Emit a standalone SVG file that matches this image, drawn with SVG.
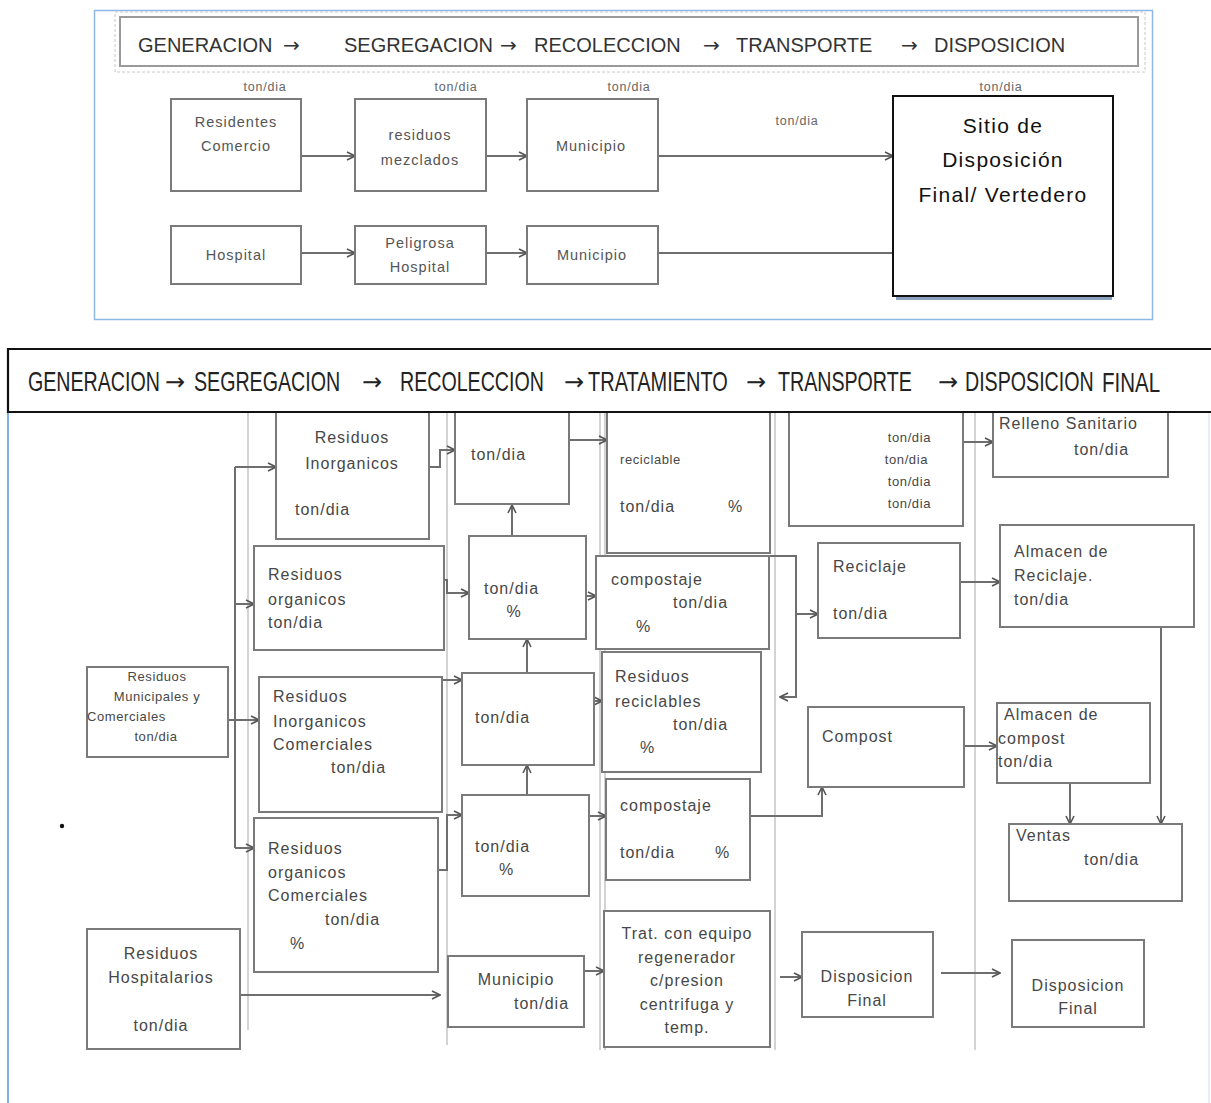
<svg xmlns="http://www.w3.org/2000/svg" width="1211" height="1103" viewBox="0 0 1211 1103">
<style>
.bg{fill:#fff}
.box{fill:#fff;stroke:#7a7a7a;stroke-width:2}
.t{font-family:"Liberation Sans",Arial,sans-serif;fill:#474747;font-size:16px;letter-spacing:1px}
.s{font-size:13px;letter-spacing:0.6px}
.tt{font-family:"Liberation Sans",Arial,sans-serif;fill:#555;font-size:14.5px;letter-spacing:1px}
.lab{font-family:"Liberation Sans",Arial,sans-serif;fill:#666;font-size:12.5px;letter-spacing:0.8px}
.h1{font-family:"Liberation Sans",Arial,sans-serif;fill:#333;font-size:20px}
.h2{font-family:"Liberation Sans",Arial,sans-serif;fill:#222;font-size:27px}
.ar{font-family:"DejaVu Sans",sans-serif;fill:#333;font-size:20px}
.ar2{font-family:"DejaVu Sans",sans-serif;fill:#222;font-size:24px}
.c{text-anchor:middle}
.e{text-anchor:end}
.conn{fill:none;stroke:#6e6e6e;stroke-width:2}
.div{fill:none;stroke:#c4c4c4;stroke-width:1.5}
</style>
<defs>
<marker id="arr" viewBox="0 0 10 10" refX="9" refY="5" markerWidth="10" markerHeight="10" markerUnits="userSpaceOnUse" orient="auto">
<path d="M1,1 L9,5 L1,9" fill="none" stroke="#555" stroke-width="1.6"/>
</marker>
</defs>
<rect class="bg" x="0" y="0" width="1211" height="1103"/>

<!-- TOP DIAGRAM -->
<g id="top-frame">
<rect x="94.5" y="10.5" width="1058" height="309" fill="none" stroke="#8db8e6" stroke-width="1.5"/>
<rect x="115" y="12" width="1030" height="60" fill="none" stroke="#c8c8c8" stroke-width="1" stroke-dasharray="3,2"/>
<rect x="120" y="17" width="1018" height="49" fill="#fff" stroke="#9a9a9a" stroke-width="2"/>
<text class="h1" x="138" y="52">GENERACION</text>
<text class="ar" x="283" y="52">→</text>
<text class="h1" x="344" y="52">SEGREGACION</text>
<text class="ar" x="500" y="52">→</text>
<text class="h1" x="534" y="52">RECOLECCION</text>
<text class="ar" x="703" y="52">→</text>
<text class="h1" x="736" y="52">TRANSPORTE</text>
<text class="ar" x="901" y="52">→</text>
<text class="h1" x="934" y="52">DISPOSICION</text>
</g>
<g id="top-labels">
<text class="lab c" x="265" y="91">ton/dia</text>
<text class="lab c" x="456" y="91">ton/dia</text>
<text class="lab c" x="629" y="91">ton/dia</text>
<text class="lab c" x="1001" y="91">ton/dia</text>
<text class="lab c" x="797" y="125">ton/dia</text>
</g>
<g id="top-connectors">
<path class="conn" d="M301,156 H355" marker-end="url(#arr)"/>
<path class="conn" d="M486,156 H527" marker-end="url(#arr)"/>
<path class="conn" d="M658,156 H893" marker-end="url(#arr)"/>
<path class="conn" d="M301,253 H355" marker-end="url(#arr)"/>
<path class="conn" d="M486,253 H527" marker-end="url(#arr)"/>
<path class="conn" d="M658,253 H893"/>
</g>
<g id="top-residentes"><rect class="box" x="171" y="99" width="130" height="92"/>
<text class="tt c" x="236" y="127">Residentes</text><text class="tt c" x="236" y="151">Comercio</text></g>
<g id="top-mezclados"><rect class="box" x="355" y="99" width="131" height="92"/>
<text class="tt c" x="420" y="140">residuos</text><text class="tt c" x="420" y="165">mezclados</text></g>
<g id="top-municipio1"><rect class="box" x="527" y="99" width="131" height="92"/>
<text class="tt c" x="591" y="151">Municipio</text></g>
<g id="top-hospital"><rect class="box" x="171" y="226" width="130" height="58"/>
<text class="tt c" x="236" y="260">Hospital</text></g>
<g id="top-peligrosa"><rect class="box" x="355" y="226" width="131" height="58"/>
<text class="tt c" x="420" y="248">Peligrosa</text><text class="tt c" x="420" y="272">Hospital</text></g>
<g id="top-municipio2"><rect class="box" x="527" y="226" width="131" height="58"/>
<text class="tt c" x="592" y="260">Municipio</text></g>
<g id="top-sitio">
<rect x="896" y="100" width="216" height="200" fill="#8aa0bf"/>
<rect x="893" y="96" width="220" height="200" fill="#fff" stroke="#111" stroke-width="2"/>
<text class="c" x="1003" y="133" font-family="Liberation Sans, Arial, sans-serif" font-size="21" letter-spacing="1.3" fill="#111">Sitio de</text>
<text class="c" x="1003" y="167" font-family="Liberation Sans, Arial, sans-serif" font-size="21" letter-spacing="1.3" fill="#111">Disposición</text>
<text class="c" x="1003" y="202" font-family="Liberation Sans, Arial, sans-serif" font-size="21" letter-spacing="1.3" fill="#111">Final/ Vertedero</text>
</g>

<!-- BOTTOM DIAGRAM -->
<g id="frame-bottom">
<line x1="8" y1="412" x2="8" y2="1103" stroke="#7fb0e6" stroke-width="2"/>
<line x1="1209" y1="412" x2="1209" y2="1103" stroke="#dbe8f6" stroke-width="1.5"/>
<line class="div" x1="248" y1="412" x2="248" y2="1030"/>
<line class="div" x1="447" y1="412" x2="447" y2="1045"/>
<line class="div" x1="600" y1="412" x2="600" y2="1050"/>
<line class="div" x1="605" y1="412" x2="605" y2="1050"/>
<line class="div" x1="775" y1="412" x2="775" y2="1050"/>
<line class="div" x1="975" y1="412" x2="975" y2="1050"/>
<circle cx="62" cy="826" r="2.2" fill="#111"/>
</g>

<g id="connectors">
<path class="conn" d="M228,720 H235"/>
<path class="conn" d="M235,467 V848"/>
<path class="conn" d="M235,467 H276" marker-end="url(#arr)"/>
<path class="conn" d="M235,604 H254" marker-end="url(#arr)"/>
<path class="conn" d="M235,720 H259" marker-end="url(#arr)"/>
<path class="conn" d="M235,848 H254" marker-end="url(#arr)"/>
<path class="conn" d="M428,467 H440 V450 H455" marker-end="url(#arr)"/>
<path class="conn" d="M568,440 H607" marker-end="url(#arr)"/>
<path class="conn" d="M430,580 H447 V593 H469" marker-end="url(#arr)"/>
<path class="conn" d="M512,536 V505" marker-end="url(#arr)"/>
<path class="conn" d="M573,596 H596" marker-end="url(#arr)"/>
<path class="conn" d="M527,673 V639" marker-end="url(#arr)"/>
<path class="conn" d="M428,740 H442 V680 H462" marker-end="url(#arr)"/>
<path class="conn" d="M578,701 H602" marker-end="url(#arr)"/>
<path class="conn" d="M527,795 V765" marker-end="url(#arr)"/>
<path class="conn" d="M428,870 H447 V815 H462" marker-end="url(#arr)"/>
<path class="conn" d="M572,816 H606" marker-end="url(#arr)"/>
<path class="conn" d="M770,556 H796 V697 H780" marker-end="url(#arr)"/>
<path class="conn" d="M796,614 H818" marker-end="url(#arr)"/>
<path class="conn" d="M750,816 H822 V787" marker-end="url(#arr)"/>
<path class="conn" d="M960,582 H1000" marker-end="url(#arr)"/>
<path class="conn" d="M964,746 H997" marker-end="url(#arr)"/>
<path class="conn" d="M1161,627 V824" marker-end="url(#arr)"/>
<path class="conn" d="M1070,783 V824" marker-end="url(#arr)"/>
<path class="conn" d="M963,442 H993" marker-end="url(#arr)"/>
<path class="conn" d="M240,995 H440" marker-end="url(#arr)"/>
<path class="conn" d="M578,971 H604" marker-end="url(#arr)"/>
<path class="conn" d="M780,977 H802" marker-end="url(#arr)"/>
<path class="conn" d="M941,973 H1000" marker-end="url(#arr)"/>
</g>

<g id="n-res-inorg"><rect class="box" x="276" y="405" width="153" height="134"/>
<text class="t c" x="352" y="443">Residuos</text><text class="t c" x="352" y="469">Inorganicos</text><text class="t" x="295" y="515">ton/dia</text></g>
<g id="n-ton1"><rect class="box" x="455" y="405" width="114" height="99"/>
<text class="t" x="471" y="460">ton/dia</text></g>
<g id="n-reciclable"><rect class="box" x="607" y="405" width="163" height="148" stroke-width="2.8"/>
<text class="t s" x="620" y="464">reciclable</text><text class="t" x="620" y="512">ton/dia</text><text class="t" x="728" y="512">%</text></g>
<g id="n-ton4"><rect class="box" x="789" y="405" width="174" height="121"/>
<text class="t s e" x="931" y="442">ton/dia</text><text class="t s e" x="928" y="464">ton/dia</text><text class="t s e" x="931" y="486">ton/dia</text><text class="t s e" x="931" y="508">ton/dia</text></g>
<g id="n-relleno"><rect class="box" x="993" y="405" width="175" height="72"/>
<text class="t" x="999" y="429" font-size="15">Relleno Sanitario</text><text class="t" x="1074" y="455">ton/dia</text></g>
<g id="n-res-org"><rect class="box" x="254" y="546" width="190" height="104"/>
<text class="t" x="268" y="580">Residuos</text><text class="t" x="268" y="605">organicos</text><text class="t" x="268" y="628">ton/dia</text></g>
<g id="n-ton2"><rect class="box" x="469" y="536" width="117" height="103"/>
<text class="t" x="484" y="594">ton/dia</text><text class="t c" x="514" y="617">%</text></g>
<g id="n-compostaje1"><rect class="box" x="596" y="556" width="173" height="93"/>
<text class="t" x="611" y="585">compostaje</text><text class="t" x="673" y="608">ton/dia</text><text class="t" x="636" y="632">%</text></g>
<g id="n-reciclaje"><rect class="box" x="818" y="543" width="142" height="95"/>
<text class="t" x="833" y="572">Reciclaje</text><text class="t" x="833" y="619">ton/dia</text></g>
<g id="n-alm-recic"><rect class="box" x="1000" y="525" width="194" height="102"/>
<text class="t" x="1014" y="557">Almacen de</text><text class="t" x="1014" y="581">Reciclaje.</text><text class="t" x="1014" y="605">ton/dia</text></g>
<g id="n-municipales"><rect class="box" x="87" y="667" width="141" height="90"/>
<text class="t s c" x="157" y="681" letter-spacing="1.2">Residuos</text><text class="t s c" x="157" y="701" letter-spacing="1.4">Municipales  y</text><text class="t s" x="87" y="721" letter-spacing="1">Comerciales</text><text class="t s c" x="156" y="741" letter-spacing="1.2">ton/dia</text></g>
<g id="n-inorg-com"><rect class="box" x="259" y="677" width="183" height="135"/>
<text class="t" x="273" y="702">Residuos</text><text class="t" x="273" y="727">Inorganicos</text><text class="t" x="273" y="750">Comerciales</text><text class="t" x="331" y="773">ton/dia</text></g>
<g id="n-ton3"><rect class="box" x="462" y="673" width="132" height="92"/>
<text class="t" x="475" y="723">ton/dia</text></g>
<g id="n-res-recic"><rect class="box" x="602" y="652" width="159" height="120"/>
<text class="t" x="615" y="682">Residuos</text><text class="t" x="615" y="707">reciclables</text><text class="t" x="673" y="730">ton/dia</text><text class="t" x="640" y="753">%</text></g>
<g id="n-compost"><rect class="box" x="808" y="707" width="156" height="80"/>
<text class="t" x="822" y="742">Compost</text></g>
<g id="n-alm-comp"><rect class="box" x="997" y="703" width="153" height="80"/>
<text class="t" x="1004" y="720">Almacen de</text><text class="t" x="998" y="744">compost</text><text class="t" x="998" y="767">ton/dia</text></g>
<g id="n-org-com"><rect class="box" x="254" y="818" width="184" height="154"/>
<text class="t" x="268" y="854">Residuos</text><text class="t" x="268" y="878">organicos</text><text class="t" x="268" y="901">Comerciales</text><text class="t" x="325" y="925">ton/dia</text><text class="t" x="290" y="949">%</text></g>
<g id="n-ton5"><rect class="box" x="462" y="795" width="127" height="101"/>
<text class="t" x="475" y="852">ton/dia</text><text class="t" x="499" y="875">%</text></g>
<g id="n-compostaje2"><rect class="box" x="606" y="779" width="144" height="101"/>
<text class="t" x="620" y="811">compostaje</text><text class="t" x="620" y="858">ton/dia</text><text class="t" x="715" y="858">%</text></g>
<g id="n-ventas"><rect class="box" x="1009" y="824" width="173" height="77"/>
<text class="t" x="1016" y="841">Ventas</text><text class="t" x="1084" y="865">ton/dia</text></g>
<g id="n-hosp"><rect class="box" x="87" y="929" width="153" height="120"/>
<text class="t c" x="161" y="959">Residuos</text><text class="t c" x="161" y="983">Hospitalarios</text><text class="t c" x="161" y="1031">ton/dia</text></g>
<g id="n-municipio"><rect class="box" x="448" y="956" width="136" height="71"/>
<text class="t c" x="516" y="985">Municipio</text><text class="t" x="514" y="1009">ton/dia</text></g>
<g id="n-trat"><rect class="box" x="604" y="911" width="166" height="136"/>
<text class="t c" x="687" y="939">Trat. con equipo</text><text class="t c" x="687" y="963">regenerador</text><text class="t c" x="687" y="986">c/presion</text><text class="t c" x="687" y="1010">centrifuga y</text><text class="t c" x="687" y="1033">temp.</text></g>
<g id="n-disp1"><rect class="box" x="802" y="932" width="131" height="85"/>
<text class="t c" x="867" y="982" letter-spacing="2">Disposicion</text><text class="t c" x="867" y="1006">Final</text></g>
<g id="n-disp2"><rect class="box" x="1012" y="940" width="132" height="87"/>
<text class="t c" x="1078" y="991" font-size="15" letter-spacing="1.5">Disposicion</text><text class="t c" x="1078" y="1014" font-size="15">Final</text></g>

<g id="header-bottom">
<rect x="8" y="349" width="1203" height="63" fill="#fff"/>
<path d="M1211,349 H8 V412 H1211" fill="none" stroke="#111" stroke-width="2.2"/>
<text class="h2" transform="translate(28,391) scale(0.727,1)">GENERACION</text>
<text class="ar2" x="165" y="390">→</text>
<text class="h2" transform="translate(194,391) scale(0.727,1)">SEGREGACION</text>
<text class="ar2" x="362" y="390">→</text>
<text class="h2" transform="translate(400,391) scale(0.727,1)">RECOLECCION</text>
<text class="ar2" x="564" y="390">→</text>
<text class="h2" transform="translate(588,391) scale(0.74,1)">TRATAMIENTO</text>
<text class="ar2" x="746" y="390">→</text>
<text class="h2" transform="translate(778,391) scale(0.727,1)">TRANSPORTE</text>
<text class="ar2" x="938" y="390">→</text>
<text class="h2" transform="translate(965,391) scale(0.727,1)">DISPOSICION</text>
<text class="h2" transform="translate(1102,392) scale(0.76,1)" font-size="30">FINAL</text>
</g>
</svg>
